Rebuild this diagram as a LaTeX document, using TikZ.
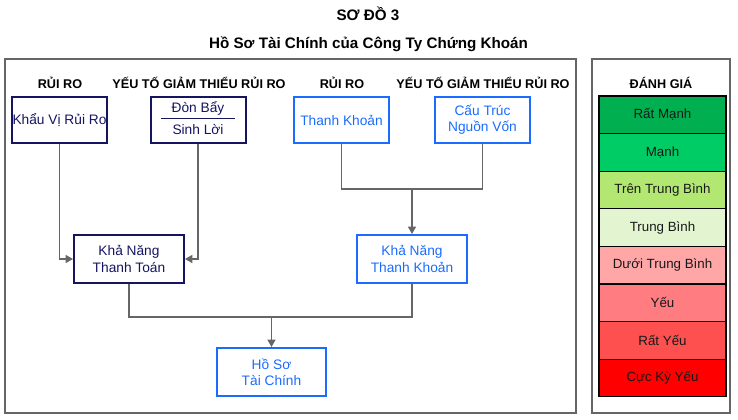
\documentclass[tikz,border=0pt]{standalone}
\usepackage{fontspec}
\setmainfont{Liberation Sans}
\usetikzlibrary{arrows.meta}

\definecolor{navyline}{HTML}{141461}
\definecolor{blueline}{HTML}{1A6BFF}
\definecolor{connline}{HTML}{666666}
\definecolor{rstrong}{HTML}{00AF50}
\definecolor{rgood}{HTML}{00CC66}
\definecolor{rabove}{HTML}{B2E871}
\definecolor{ravg}{HTML}{E2F5D0}
\definecolor{rbelow}{HTML}{FFA6A6}
\definecolor{rweak}{HTML}{FF7C80}
\definecolor{rvweak}{HTML}{FF5050}
\definecolor{rxweak}{HTML}{FF0000}

\begin{document}
\begin{tikzpicture}[x=0.75pt, y=-0.75pt,
    every node/.style={font=\fontsize{10.3}{12.2}\selectfont, inner sep=0pt},
    navybox/.style={draw=navyline, line width=1.5pt, text=navyline, align=center},
    bluebox/.style={draw=blueline, line width=1.5pt, text=blueline, align=center},
    header/.style={font=\bfseries\fontsize{9.5}{11.5}\selectfont},
    frame/.style={draw=connline, line width=1pt},
    link/.style={draw=connline, line width=0.9pt},
    conn/.style={link, -{Triangle[width=6pt,length=5.5pt]}},
    rating/.style={draw=black, line width=0.8pt, minimum width=95.25pt, minimum height=28.2pt,
        text=black!90, font=\fontsize{10}{12}\selectfont}]
    \useasboundingbox (0,0) rectangle (738,420);

    % tieu de
    \node[font=\bfseries\fontsize{11.4}{13}\selectfont] (title) at (368,14) {SƠ ĐỒ 3};
    \node[font=\bfseries\fontsize{11.4}{13}\selectfont] (subtitle) at (368.5,44) {Hồ Sơ Tài Chính của Công Ty Chứng Khoán};

    % khung
    \draw[frame] (5,59) rectangle (576,413);
    \draw[frame] (592,59) rectangle (730,413);

    % nhan cot
    \node[header] (hd1) at (60,83) {RỦI RO};
    \node[header] (hd2) at (199,83) {YẾU TỐ GIẢM THIỂU RỦI RO};
    \node[header] (hd3) at (342,83) {RỦI RO};
    \node[header] (hd4) at (483,83) {YẾU TỐ GIẢM THIỂU RỦI RO};
    \node[header] (hd5) at (661,83) {ĐÁNH GIÁ};

    % hang tren
    \node[navybox, minimum width=71.25pt, minimum height=34.5pt] (khauvi) at (59.5,120) {Khẩu Vị Rủi Ro};
    \node[navybox, minimum width=71.25pt, minimum height=34.5pt] (donbay) at (198,120)
        {\begin{tabular}{@{\hspace{8pt}}c@{\hspace{8pt}}}Đòn Bẩy\\[1pt]\hline\rule{0pt}{11.5pt}Sinh Lời\end{tabular}};
    \node[bluebox, minimum width=71.25pt, minimum height=34.5pt] (thanhkhoan) at (341.5,120) {Thanh Khoản};
    \node[bluebox, minimum width=71.25pt, minimum height=34.5pt] (cautruc) at (482.5,120) {Cấu Trúc\\Nguồn Vốn};

    % hang giua
    \node[navybox, minimum width=82.5pt, minimum height=36pt] (khanangtt) at (129,259) {Khả Năng\\Thanh Toán};
    \node[bluebox, minimum width=82.5pt, minimum height=36pt] (khanangtk) at (412,259) {Khả Năng\\Thanh Khoản};

    % ket qua
    \node[bluebox, minimum width=81.75pt, minimum height=36pt] (hoso) at (271.5,372) {Hồ Sơ\\Tài Chính};

    % duong noi
    \draw[conn] (khauvi.south) |- (khanangtt.west);
    \draw[conn] (donbay.south) |- (khanangtt.east);
    \coordinate (jn1) at (412,189);
    \draw[link] (thanhkhoan.south) |- (jn1) -| (cautruc.south);
    \draw[conn] (jn1) -- (khanangtk.north);
    \coordinate (jn2) at (271.5,317);
    \draw[link] (khanangtt.south) |- (jn2) -| (khanangtk.south);
    \draw[conn] (jn2) -- (hoso.north);

    % thang danh gia
    \foreach \lbl/\col [count=\i] in {Rất Mạnh/rstrong, Mạnh/rgood, Trên Trung Bình/rabove,
        Trung Bình/ravg, Dưới Trung Bình/rbelow, Yếu/rweak, Rất Yếu/rvweak, Cực Kỳ Yếu/rxweak}
        \node[rating, fill=\col] (rate\i) at (662.5,{114.8+(\i-1)*37.6}) {\lbl};
\end{tikzpicture}
\end{document}
